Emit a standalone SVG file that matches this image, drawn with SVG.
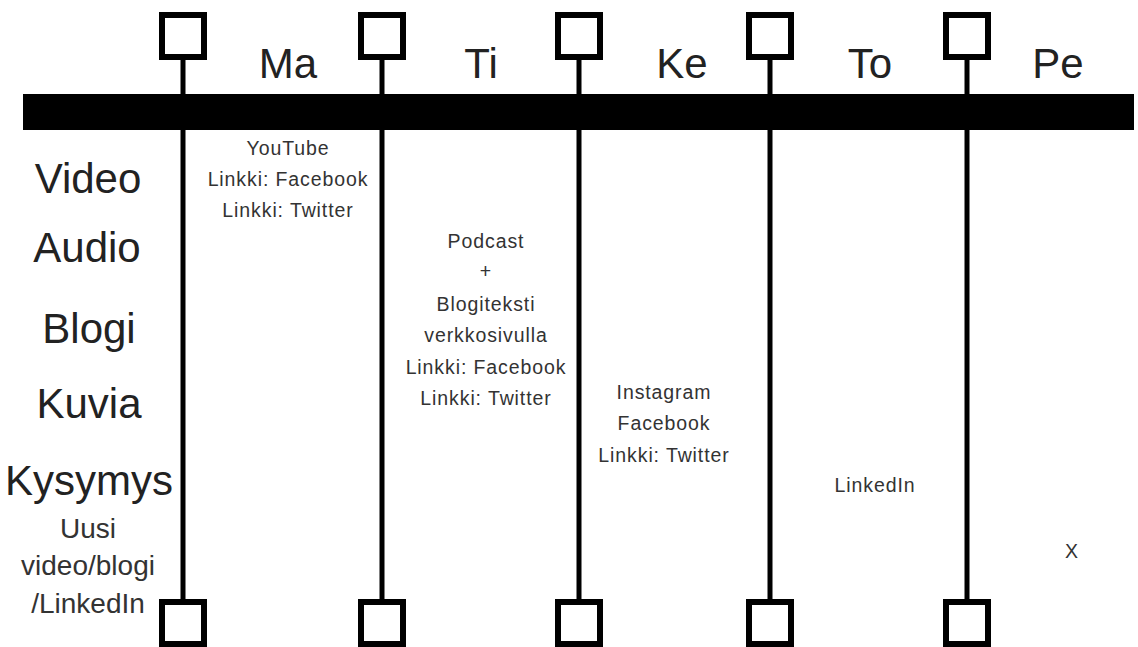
<svg xmlns="http://www.w3.org/2000/svg" width="1138" height="647" viewBox="0 0 1138 647">
<style>
.sq{fill:#fff;stroke:#000;stroke-width:6}
.ln{stroke:#000;stroke-width:5;fill:none}
.day{font-family:"Liberation Sans",Arial,sans-serif;font-size:42px;fill:#222;text-anchor:middle}
.row{font-family:"Liberation Sans",Arial,sans-serif;font-size:42px;fill:#222;text-anchor:middle}
.sub{font-family:"Liberation Sans",Arial,sans-serif;font-size:28px;fill:#333;text-anchor:middle}
.cell{font-family:"Liberation Sans",Arial,sans-serif;font-size:19.5px;letter-spacing:0.9px;fill:#333;text-anchor:middle}
</style>
<rect width="1138" height="647" fill="#fff"/>
<g id="connectors">
<line class="ln" x1="183" y1="60" x2="183" y2="600"/>
<line class="ln" x1="382" y1="60" x2="382" y2="600"/>
<line class="ln" x1="579" y1="60" x2="579" y2="600"/>
<line class="ln" x1="770" y1="60" x2="770" y2="600"/>
<line class="ln" x1="967" y1="60" x2="967" y2="600"/>
</g>
<g id="bar"><rect x="23" y="94" width="1111" height="36" fill="#000"/></g>
<g id="top-squares">
<rect class="sq" x="162" y="15" width="42" height="42"/>
<rect class="sq" x="361" y="15" width="42" height="42"/>
<rect class="sq" x="558" y="15" width="42" height="42"/>
<rect class="sq" x="749" y="15" width="42" height="42"/>
<rect class="sq" x="946" y="15" width="42" height="42"/>
</g>
<g id="bottom-squares">
<rect class="sq" x="162" y="602" width="42" height="42"/>
<rect class="sq" x="361" y="602" width="42" height="42"/>
<rect class="sq" x="558" y="602" width="42" height="42"/>
<rect class="sq" x="749" y="602" width="42" height="42"/>
<rect class="sq" x="946" y="602" width="42" height="42"/>
</g>
<g id="days">
<text class="day" x="288" y="78">Ma</text>
<text class="day" x="481" y="78">Ti</text>
<text class="day" x="682" y="78">Ke</text>
<text class="day" x="870" y="78">To</text>
<text class="day" x="1058" y="78">Pe</text>
</g>
<g id="rows">
<text class="row" x="88" y="193">Video</text>
<text class="row" x="87" y="262">Audio</text>
<text class="row" x="89" y="343">Blogi</text>
<text class="row" x="89" y="418">Kuvia</text>
<text class="row" x="89" y="495">Kysymys</text>
<text class="sub" x="88" y="538">Uusi</text>
<text class="sub" x="88" y="575">video/blogi</text>
<text class="sub" x="88" y="613">/LinkedIn</text>
</g>
<g id="ma-cell">
<text class="cell" x="288" y="155">YouTube</text>
<text class="cell" x="288" y="186">Linkki: Facebook</text>
<text class="cell" x="288" y="217">Linkki: Twitter</text>
</g>
<g id="ti-cell">
<text class="cell" x="486" y="248">Podcast</text>
<text class="cell" x="486" y="278">+</text>
<text class="cell" x="486" y="311">Blogiteksti</text>
<text class="cell" x="486" y="342">verkkosivulla</text>
<text class="cell" x="486" y="374">Linkki: Facebook</text>
<text class="cell" x="486" y="405">Linkki: Twitter</text>
</g>
<g id="ke-cell">
<text class="cell" x="664" y="399">Instagram</text>
<text class="cell" x="664" y="430">Facebook</text>
<text class="cell" x="664" y="462">Linkki: Twitter</text>
</g>
<g id="to-cell"><text class="cell" x="875" y="492">LinkedIn</text></g>
<g id="pe-cell"><text class="cell" x="1072" y="558">X</text></g>
</svg>
